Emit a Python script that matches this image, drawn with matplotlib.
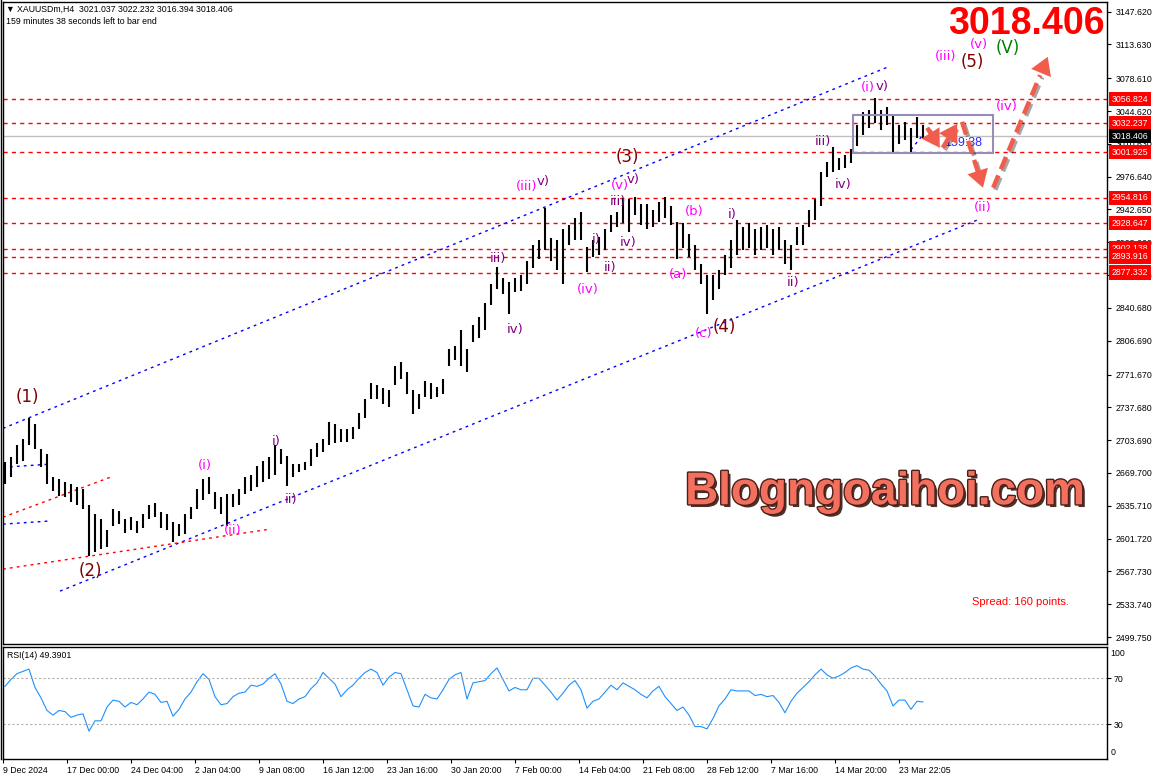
import matplotlib
matplotlib.use('Agg')
import matplotlib.pyplot as plt
import matplotlib.patheffects as pe
from matplotlib.patches import Rectangle

plt.rcParams['font.family'] = ['Liberation Sans', 'DejaVu Sans']

# XAUUSDm H4, every other bar: highs / lows
highs = [2681, 2686, 2699, 2705, 2727, 2720, 2694, 2689, 2665, 2663,
         2660, 2658, 2655, 2653, 2637, 2627, 2622, 2611, 2632, 2630,
         2622, 2624, 2620, 2627, 2637, 2639, 2629, 2627, 2619, 2617,
         2627, 2634, 2653, 2663, 2666, 2650, 2645, 2648, 2648, 2653,
         2665, 2668, 2677, 2682, 2686, 2699, 2694, 2687, 2679, 2679,
         2681, 2694, 2701, 2705, 2723, 2720, 2715, 2715, 2717, 2732,
         2746, 2763, 2761, 2758, 2756, 2780, 2785, 2774, 2756, 2751,
         2765, 2763, 2759, 2767, 2798, 2801, 2818, 2798, 2823, 2831,
         2846, 2865, 2883, 2872, 2868, 2872, 2875, 2889, 2906, 2911,
         2944, 2913, 2911, 2922, 2927, 2934, 2940, 2904, 2911, 2914,
         2922, 2937, 2940, 2955, 2953, 2956, 2948, 2948, 2942, 2950,
         2956, 2946, 2930, 2929, 2917, 2906, 2886, 2875, 2875, 2880,
         2896, 2911, 2932, 2924, 2929, 2922, 2924, 2927, 2922, 2924,
         2911, 2906, 2924, 2927, 2942, 2953, 2982, 2992, 3007, 2996,
         2999, 3005, 3030, 3044, 3046, 3058, 3046, 3049, 3039, 3030,
         3033, 3027, 3038, 3030]
lows = [2658, 2665, 2679, 2682, 2699, 2694, 2676, 2658, 2651, 2646,
        2645, 2640, 2637, 2632, 2583.5, 2588, 2591, 2593, 2615, 2617,
        2608, 2611, 2608, 2613, 2622, 2624, 2613, 2611, 2598, 2604,
        2606, 2622, 2632, 2642, 2648, 2632, 2627, 2615, 2634, 2637,
        2648, 2651, 2655, 2660, 2663, 2668, 2679, 2656, 2665, 2671,
        2673, 2677, 2686, 2691, 2699, 2701, 2702, 2702, 2705, 2715,
        2727, 2746, 2746, 2741, 2738, 2761, 2767, 2751, 2731, 2736,
        2748, 2746, 2748, 2751, 2780, 2787, 2780, 2774, 2805, 2810,
        2818, 2844, 2860, 2855, 2834, 2857, 2858, 2865, 2882, 2891,
        2901, 2889, 2880, 2865, 2906, 2911, 2911, 2878, 2893, 2896,
        2901, 2919, 2924, 2929, 2919, 2937, 2927, 2922, 2924, 2930,
        2934, 2927, 2891, 2903, 2893, 2880, 2865, 2834, 2849, 2860,
        2875, 2882, 2896, 2901, 2903, 2896, 2901, 2903, 2896, 2901,
        2886, 2880, 2906, 2906, 2924, 2932, 2946, 2976, 2982, 2984,
        2986, 2991, 3008, 3020, 3027, 3032, 3025, 3030, 3000, 3010,
        3015, 3002, 3017, 3016]

rsi = [63, 69, 74, 76, 78, 62, 53, 42, 38, 42,
       41, 36, 38, 39, 24, 33, 33, 45, 51, 50,
       45, 49, 47, 52, 58, 56, 49, 50, 37, 43,
       52, 58, 67, 74, 69, 54, 47, 48, 54, 57,
       58, 64, 63, 65, 70, 74, 65, 50, 48, 52,
       54, 61, 66, 75, 70, 65, 54, 60, 64, 70,
       75, 78, 75, 64, 71, 75, 74, 60, 46, 45,
       56, 53, 52, 60, 69, 73, 75, 52, 66, 67,
       68, 74, 79, 69, 59, 62, 60, 60, 70, 70,
       64, 58, 51, 57, 64, 68, 60, 44, 50, 52,
       58, 64, 60, 66, 63, 60, 56, 53, 59, 63,
       54, 48, 42, 45, 38, 28, 28, 26, 35, 46,
       52, 60, 59, 59, 59, 55, 56, 54, 55, 49,
       40, 50, 57, 62, 67, 73, 78, 73, 70, 72,
       75, 79, 81, 78, 77, 72, 65, 59, 46, 51,
       51, 43, 50, 49.39]

levels = [3056.824, 3032.237, 3001.925, 2954.816, 2928.647, 2902.138, 2893.916, 2877.332]
last_price = 3018.406
price_ticks = [3147.620, 3113.630, 3078.610, 3044.620, 3010.630, 2976.640, 2942.650,
               2908.660, 2874.670, 2840.680, 2806.690, 2771.670, 2737.680, 2703.690,
               2669.700, 2635.710, 2601.720, 2567.730, 2533.740, 2499.750]
time_labels = ['9 Dec 2024', '17 Dec 00:00', '24 Dec 04:00', '2 Jan 04:00', '9 Jan 08:00',
               '16 Jan 12:00', '23 Jan 16:00', '30 Jan 20:00', '7 Feb 00:00', '14 Feb 04:00',
               '21 Feb 08:00', '28 Feb 12:00', '7 Mar 16:00', '14 Mar 20:00', '23 Mar 22:05']

# trend lines: (bar0, price0, bar1, price1)
channel_blue = [(-0.33, 2715.9, 147.2, 3090.4), (9.17, 2547.3, 162.2, 2932.1),
                (-0.33, 2675.6, 7.17, 2678.7), (-0.33, 2616.7, 7.17, 2619.8),
                (151.0, 3004.6, 153.0, 3020.1)]
channel_red = [(-0.33, 2623.9, 18.0, 2666.3), (-0.33, 2570.1, 44.17, 2611.5)]
forecast = [(153.7, 3027.3, 155.8, 3006.6), (156.3, 3006.6, 158.7, 3031.5),
            (159.5, 3033.5, 163.0, 2965.2), (164.7, 2965.2, 173.8, 3100.8)]

# wave labels: text, bar, price, colour
waves = [('(1)', 3.67, 2748.0, '#800000'), ('(2)', 14.17, 2568.0, '#800000'),
         ('(3)', 103.67, 2997.3, '#800000'), ('(4)', 119.83, 2820.4, '#800000'),
         ('(5)', 161.17, 3095.6, '#800000'), ('(V)', 167.2, 3109.5, '#008000'),
         ('(v)', 162.4, 3113.2, '#ff00ff'), ('(iii)', 156.83, 3100.7, '#ff00ff'),
         ('(i)', 33.33, 2677.7, '#ff00ff'), ('(ii)', 38.0, 2610.4, '#ff00ff'),
         ('i)', 45.17, 2702.5, '#800080'), ('ii)', 47.67, 2642.5, '#800080'),
         ('iii)', 82.17, 2891.8, '#800080'), ('iv)', 85.0, 2818.3, '#800080'),
         ('(iii)', 87.0, 2966.3, '#ff00ff'), ('v)', 89.67, 2971.5, '#800080'),
         ('(iv)', 97.17, 2859.7, '#ff00ff'), ('i)', 98.5, 2911.4, '#800080'),
         ('ii)', 100.83, 2882.5, '#800080'), ('iii)', 102.17, 2950.7, '#800080'),
         ('iv)', 103.83, 2908.4, '#800080'), ('(v)', 102.5, 2967.3, '#ff00ff'),
         ('v)', 104.67, 2973.5, '#800080'), ('(a)', 112.17, 2875.2, '#ff00ff'),
         ('(b)', 114.83, 2940.4, '#ff00ff'), ('(c)', 116.5, 2814.2, '#ff00ff'),
         ('i)', 121.17, 2937.3, '#800080'), ('ii)', 131.33, 2867.0, '#800080'),
         ('iii)', 136.33, 3012.8, '#800080'), ('iv)', 139.67, 2968.3, '#800080'),
         ('(i)', 143.83, 3068.7, '#ff00ff'), ('v)', 146.17, 3069.7, '#800080'),
         ('(iv)', 167.0, 3049.0, '#ff00ff'), ('(ii)', 163.0, 2944.5, '#ff00ff')]

W, H = 1159, 782
fig = plt.figure(figsize=(W / 100, H / 100), dpi=100)
ax = fig.add_axes([3 / W, 1 - 644 / H, 1104 / W, 642 / H])
ax2 = fig.add_axes([3 / W, 1 - 759 / H, 1104 / W, 112 / H], sharex=ax)

x = list(range(len(highs)))
ax.vlines(x, lows, highs, color='black', lw=1.5, zorder=3)

for lv in levels:
    ax.axhline(lv, color='#ff0000', lw=1, dashes=(3, 3), zorder=2)
ax.axhline(last_price, color='#c0c0c0', lw=1, zorder=1)

for x0, y0, x1, y1 in channel_blue:
    ax.plot([x0, x1], [y0, y1], color='#0000ff', lw=1, dashes=(2, 3), zorder=2)
for x0, y0, x1, y1 in channel_red:
    ax.plot([x0, x1], [y0, y1], color='#ff0000', lw=1, dashes=(2, 3), zorder=2)

ax.add_patch(Rectangle((141.3, 3001.4), 23.4, 39.3, fill=False,
                       ec='#9a8cb8', lw=1.5, zorder=4))
ax.text(156.5, 3011.8, '159:38', color='#2a2aff', fontsize=9, va='center', ha='left', zorder=4)

arrow_col = '#f25c4c'
shadow = [pe.SimpleLineShadow(offset=(1.5, -1.5), alpha=0.35), pe.Normal()]
for x0, y0, x1, y1 in forecast:
    xm, ym = x0 + (x1 - x0) * 0.86, y0 + (y1 - y0) * 0.86
    ax.plot([x0, xm], [y0, ym], color=arrow_col, lw=3.2, dashes=(3, 1.5), zorder=5,
            solid_capstyle='butt', path_effects=shadow)
    ax.annotate('', xy=(x1, y1), xytext=(xm, ym),
                arrowprops=dict(arrowstyle='-|>,head_length=0.9,head_width=0.55',
                                mutation_scale=14, color=arrow_col, lw=0,
                                shrinkA=0, shrinkB=0), zorder=5)

for txt, bx, py, col in waves:
    size = 12 if txt[1].isdigit() or txt == '(V)' else 9.5
    ax.text(bx, py, txt, color=col, fontsize=size, ha='center', va='center', zorder=6,
            family=['DejaVu Sans'])

ax.text(170.3, 3134.9, '3018.406', color='#ff0000', fontsize=27, fontweight='bold',
        ha='center', va='center', zorder=6)
ax.text(146.7, 2649.7, 'Blogngoaihoi.com', color='#f4705e', fontsize=33, fontweight='bold',
        ha='center', va='center', zorder=6,
        path_effects=[pe.withSimplePatchShadow(offset=(2, -2), shadow_rgbFace='#3a1a14', alpha=0.9),
                      pe.withStroke(linewidth=2, foreground='#4a2018')])
ax.text(169.2, 2536.0, 'Spread: 160 points.', color='#ff0000', fontsize=8, ha='center',
        va='center', zorder=6)

ax.set_xlim(-0.33, 183.67)
ax.set_ylim(2492.5, 3157.6)
ax.yaxis.tick_right()
ax.set_yticks(price_ticks)
ax.set_yticklabels([f'{t:.3f}' for t in price_ticks])
ax.tick_params(axis='y', direction='out', length=3, pad=3, labelsize=6.3, colors='black')
ax.tick_params(axis='x', bottom=False, labelbottom=False)

ytr = ax.get_yaxis_transform()
for lv in levels:
    ax.text(1.004, lv, f'{lv:.3f}', transform=ytr, color='white', fontsize=6.3, ha='left',
            va='center', zorder=7, clip_on=False,
            bbox=dict(boxstyle='square,pad=0.3', fc='#ff0000', ec='none'))
ax.text(1.004, last_price, f'{last_price:.3f}', transform=ytr, color='white', fontsize=6.3,
        ha='left', va='center', zorder=8, clip_on=False,
        bbox=dict(boxstyle='square,pad=0.3', fc='black', ec='none'))

# RSI pane
ax2.plot(x, rsi, color='#1e90ff', lw=0.8)
for lv in (70, 30):
    ax2.axhline(lv, color='#b0b0b0', lw=0.8, dashes=(2, 2))
ax2.set_ylim(-0.2, 97.2)
ax2.yaxis.tick_right()
ax2.set_yticks([70, 30])
ax2.set_yticklabels(['70', '30'])
ax2.tick_params(axis='y', direction='out', length=3, pad=2, labelsize=6.3, colors='black')
ax2.text(1.003, 0.98, '100', transform=ax2.transAxes, fontsize=6.3, ha='left', va='top')
ax2.text(1.003, 0.02, '0', transform=ax2.transAxes, fontsize=6.3, ha='left', va='bottom')
ax2.text(0.004, 0.96, 'RSI(14) 49.3901', transform=ax2.transAxes, fontsize=6.3,
         ha='left', va='top')

tick_pos = [(3 + 64 * i - 5) / 6 for i in range(len(time_labels))]
ax2.set_xticks(tick_pos)
ax2.set_xticklabels(time_labels, ha='left')
ax2.tick_params(axis='x', direction='out', length=3, pad=2, labelsize=6.3)

for a in (ax, ax2):
    for s in a.spines.values():
        s.set_linewidth(1)
        s.set_color('black')

fig.text(6 / W, 1 - 9 / H, '\u25bc XAUUSDm,H4  3021.037 3022.232 3016.394 3018.406',
         fontsize=6.3, ha='left', va='center')
fig.text(6 / W, 1 - 22 / H, '159 minutes 38 seconds left to bar end',
         fontsize=6.3, ha='left', va='center')
fig.add_artist(plt.Line2D([1 / W, 1 / W], [1 - 759 / H, 1], color='black', lw=1))

fig.savefig('out.png', dpi=100, facecolor='white')
